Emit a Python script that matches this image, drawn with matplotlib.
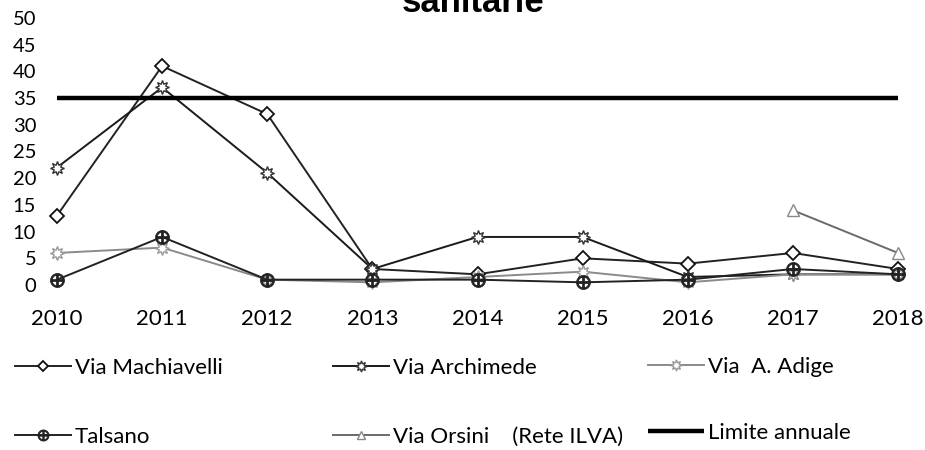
import numpy as np
import matplotlib
matplotlib.use("Agg")
import matplotlib.pyplot as plt

years = [2010, 2011, 2012, 2013, 2014, 2015, 2016, 2017, 2018]
year_labels = ["2010", "2011", "2012", "2013", "2014", "2015", "2016", "2017", "2018"]
machiavelli = [13, 41, 32, 3, 2, 5, 4, 6, 3]
archimede = [22, 37, 21, 3, 9, 9, 1.5, 2, 2]
adige = [6, 7, 1, 0.5, 1.5, 2.5, 0.5, 2, 2]
talsano = [1, 9, 1, 1, 1, 0.5, 1, 3, 2]
orsini = [np.nan, np.nan, np.nan, np.nan, np.nan, np.nan, np.nan, 14, 6]
limite = [35, 35, 35, 35, 35, 35, 35, 35, 35]
yticks = [0, 5, 10, 15, 20, 25, 30, 35, 40, 45, 50]
title_text = "sanitarie"

plt.rcParams['font.family'] = ['Lato', 'DejaVu Sans']

W, H = 925, 450
fig = plt.figure(figsize=(W / 100, H / 100), dpi=100)
x0, x1 = 57, 898
y0, y1 = 285, 18
ax = fig.add_axes([x0 / W, 1 - y0 / H, (x1 - x0) / W, (y0 - y1) / H])

common = dict(clip_on=False, linewidth=1.4)
h_mach, = ax.plot(years, machiavelli, color='#222222', marker='D', markersize=7,
                  markerfacecolor='white', markeredgecolor='#111111', markeredgewidth=1.3,
                  label='Via Machiavelli', **common)
h_arch, = ax.plot(years, archimede, color='#1a1a1a', marker=(8, 1, 0), markersize=10,
                  markerfacecolor='white', markeredgecolor='#333333', markeredgewidth=1.0,
                  label='Via Archimede', **common)
h_adige, = ax.plot(years, adige, color='#8a8a8a', marker=(8, 1, 0), markersize=10,
                   markerfacecolor='white', markeredgecolor='#9a9a9a', markeredgewidth=1.0,
                   label='Via  A. Adige', **common)
h_tals, = ax.plot(years, talsano, color='#222222', marker=r'$\oplus$', markersize=10,
                  markerfacecolor='#222222', markeredgecolor='#222222', markeredgewidth=0.6,
                  label='Talsano', **common)
h_ors, = ax.plot(years, orsini, color='#6a6a6a', marker='^', markersize=8,
                 markerfacecolor='white', markeredgecolor='#888888', markeredgewidth=1.0,
                 label='Via Orsini    (Rete ILVA)', **common)
h_lim, = ax.plot(years, limite, color='black', linewidth=3.2, solid_capstyle='butt',
                 label='Limite annuale', clip_on=False)

ax.set_xlim(2010, 2018)
ax.set_ylim(0, 50)
ax.set_yticks(yticks)
ax.set_yticklabels([str(v) for v in yticks])
ax.set_xticks(years)
ax.set_xticklabels(year_labels)
ax.tick_params(axis='y', length=0, pad=15, labelsize=14.5)
ax.tick_params(axis='x', length=0, pad=17, labelsize=16)
for s in ax.spines.values():
    s.set_visible(False)
ax.patch.set_alpha(0)

fig.text(473 / W, 1 - 12 / H, title_text, ha='center', va='baseline',
         fontsize=25, fontweight='bold', family=['Liberation Sans', 'DejaVu Sans'])

entries = [
    (h_mach, 15, 368), (h_arch, 333, 368), (h_adige, 648, 367),
    (h_tals, 15, 437), (h_ors, 333, 437), (h_lim, 648, 433),
]
for h, px, py in entries:
    fig.legend(handles=[h], loc='center left', bbox_to_anchor=(px / W, 1 - py / H),
               frameon=False, fontsize=16, handlelength=2.5, handletextpad=0.2,
               borderpad=0, borderaxespad=0, markerscale=0.8)

fig.savefig('out.png', dpi=100)
